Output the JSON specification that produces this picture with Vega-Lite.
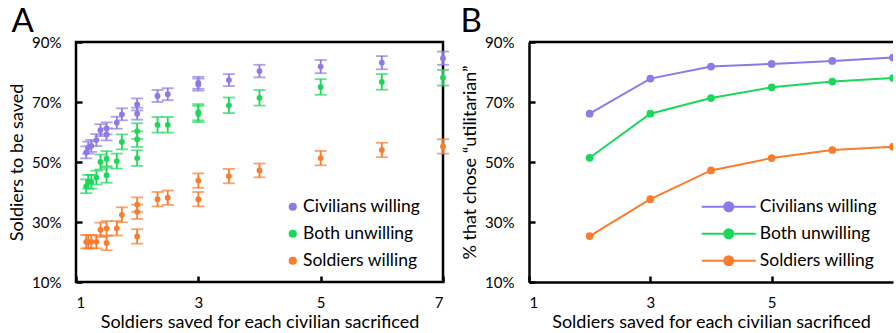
{
  "$schema": "https://vega.github.io/schema/vega-lite/v6.json",
  "padding": {"left": 7, "top": 4, "right": 0, "bottom": 0},
  "background": "white",
  "spacing": 9,
  "config": {
    "font": "Lato",
    "view": {"stroke": "black", "strokeWidth": 2.5},
    "axis": {
      "grid": false,
      "labelFont": "Lato",
      "labelFontSize": 15,
      "labelColor": "black",
      "titleFont": "Lato",
      "titleFontSize": 18,
      "titleFontWeight": "normal",
      "titleColor": "black",
      "tickColor": "black",
      "tickWidth": 2.5,
      "tickSize": -6,
      "domainColor": "black",
      "domainWidth": 2.5
    },
    "legend": {"labelFont": "Lato", "labelFontSize": 17.5, "labelColor": "black"},
    "title": {"font": "Lato", "fontSize": 33, "fontWeight": "normal", "color": "black", "anchor": "start"}
  },
  "datasets": {
    "A": [
      {"s": "Civilians willing", "x": 1.167, "y": 53.2, "e": 2.0},
      {"s": "Civilians willing", "x": 1.2, "y": 54.8, "e": 2.0},
      {"s": "Civilians willing", "x": 1.25, "y": 55.4, "e": 2.0},
      {"s": "Civilians willing", "x": 1.333, "y": 57.3, "e": 2.0},
      {"s": "Civilians willing", "x": 1.4, "y": 60.6, "e": 2.0},
      {"s": "Civilians willing", "x": 1.5, "y": 61.2, "e": 2.0},
      {"s": "Civilians willing", "x": 1.5, "y": 59.2, "e": 2.0},
      {"s": "Civilians willing", "x": 1.667, "y": 63.1, "e": 2.0},
      {"s": "Civilians willing", "x": 1.75, "y": 65.9, "e": 2.0},
      {"s": "Civilians willing", "x": 2, "y": 69.2, "e": 2.0},
      {"s": "Civilians willing", "x": 2, "y": 66.1, "e": 2.0},
      {"s": "Civilians willing", "x": 2.333, "y": 72.0, "e": 2.0},
      {"s": "Civilians willing", "x": 2.5, "y": 72.6, "e": 2.0},
      {"s": "Civilians willing", "x": 3, "y": 76.4, "e": 2.0},
      {"s": "Civilians willing", "x": 3, "y": 75.8, "e": 2.0},
      {"s": "Civilians willing", "x": 3.5, "y": 77.3, "e": 2.0},
      {"s": "Civilians willing", "x": 4, "y": 80.3, "e": 2.1},
      {"s": "Civilians willing", "x": 5, "y": 81.8, "e": 2.2},
      {"s": "Civilians willing", "x": 6, "y": 83.1, "e": 2.2},
      {"s": "Civilians willing", "x": 7, "y": 84.6, "e": 2.2},
      {"s": "Both unwilling", "x": 1.167, "y": 41.9, "e": 2.3},
      {"s": "Both unwilling", "x": 1.2, "y": 43.4, "e": 2.3},
      {"s": "Both unwilling", "x": 1.25, "y": 43.4, "e": 2.3},
      {"s": "Both unwilling", "x": 1.333, "y": 44.8, "e": 2.3},
      {"s": "Both unwilling", "x": 1.4, "y": 50.0, "e": 2.5},
      {"s": "Both unwilling", "x": 1.5, "y": 51.1, "e": 2.5},
      {"s": "Both unwilling", "x": 1.5, "y": 45.6, "e": 2.5},
      {"s": "Both unwilling", "x": 1.667, "y": 50.3, "e": 2.5},
      {"s": "Both unwilling", "x": 1.75, "y": 56.7, "e": 2.5},
      {"s": "Both unwilling", "x": 2, "y": 60.3, "e": 2.6},
      {"s": "Both unwilling", "x": 2, "y": 57.6, "e": 2.6},
      {"s": "Both unwilling", "x": 2, "y": 51.3, "e": 2.6},
      {"s": "Both unwilling", "x": 2.333, "y": 62.4, "e": 2.6},
      {"s": "Both unwilling", "x": 2.5, "y": 62.4, "e": 2.6},
      {"s": "Both unwilling", "x": 3, "y": 66.6, "e": 2.7},
      {"s": "Both unwilling", "x": 3, "y": 66.0, "e": 2.7},
      {"s": "Both unwilling", "x": 3.5, "y": 68.9, "e": 2.6},
      {"s": "Both unwilling", "x": 4, "y": 71.4, "e": 2.6},
      {"s": "Both unwilling", "x": 5, "y": 75.0, "e": 2.6},
      {"s": "Both unwilling", "x": 6, "y": 76.7, "e": 2.6},
      {"s": "Both unwilling", "x": 7, "y": 78.1, "e": 2.6},
      {"s": "Soldiers willing", "x": 1.167, "y": 23.4, "e": 2.2},
      {"s": "Soldiers willing", "x": 1.2, "y": 23.4, "e": 2.2},
      {"s": "Soldiers willing", "x": 1.25, "y": 23.4, "e": 2.2},
      {"s": "Soldiers willing", "x": 1.333, "y": 23.4, "e": 2.2},
      {"s": "Soldiers willing", "x": 1.4, "y": 27.4, "e": 2.4},
      {"s": "Soldiers willing", "x": 1.5, "y": 27.9, "e": 2.4},
      {"s": "Soldiers willing", "x": 1.5, "y": 23.0, "e": 2.4},
      {"s": "Soldiers willing", "x": 1.667, "y": 27.9, "e": 2.4},
      {"s": "Soldiers willing", "x": 1.75, "y": 32.4, "e": 2.5},
      {"s": "Soldiers willing", "x": 2, "y": 35.8, "e": 2.4},
      {"s": "Soldiers willing", "x": 2, "y": 33.4, "e": 2.4},
      {"s": "Soldiers willing", "x": 2, "y": 25.2, "e": 2.4},
      {"s": "Soldiers willing", "x": 2.333, "y": 37.6, "e": 2.4},
      {"s": "Soldiers willing", "x": 2.5, "y": 38.1, "e": 2.4},
      {"s": "Soldiers willing", "x": 3, "y": 43.8, "e": 2.4},
      {"s": "Soldiers willing", "x": 3, "y": 37.6, "e": 2.4},
      {"s": "Soldiers willing", "x": 3.5, "y": 45.3, "e": 2.4},
      {"s": "Soldiers willing", "x": 4, "y": 47.2, "e": 2.3},
      {"s": "Soldiers willing", "x": 5, "y": 51.3, "e": 2.4},
      {"s": "Soldiers willing", "x": 6, "y": 54.0, "e": 2.4},
      {"s": "Soldiers willing", "x": 7, "y": 55.2, "e": 2.4}
    ],
    "B": [
      {"s": "Civilians willing", "x": 2, "y": 66.1},
      {"s": "Civilians willing", "x": 3, "y": 77.8},
      {"s": "Civilians willing", "x": 4, "y": 81.8},
      {"s": "Civilians willing", "x": 5, "y": 82.7},
      {"s": "Civilians willing", "x": 6, "y": 83.7},
      {"s": "Civilians willing", "x": 7, "y": 84.8},
      {"s": "Both unwilling", "x": 2, "y": 51.4},
      {"s": "Both unwilling", "x": 3, "y": 66.1},
      {"s": "Both unwilling", "x": 4, "y": 71.3},
      {"s": "Both unwilling", "x": 5, "y": 74.9},
      {"s": "Both unwilling", "x": 6, "y": 76.8},
      {"s": "Both unwilling", "x": 7, "y": 78.0},
      {"s": "Soldiers willing", "x": 2, "y": 25.3},
      {"s": "Soldiers willing", "x": 3, "y": 37.6},
      {"s": "Soldiers willing", "x": 4, "y": 47.2},
      {"s": "Soldiers willing", "x": 5, "y": 51.3},
      {"s": "Soldiers willing", "x": 6, "y": 54.0},
      {"s": "Soldiers willing", "x": 7, "y": 55.1}
    ]
  },
  "resolve": {"scale": {"color": "independent"}, "legend": {"color": "independent"}},
  "hconcat": [
    {
      "title": {"text": "A", "offset": -4, "dx": 3},
      "width": 367,
      "height": 240,
      "data": {"name": "A"},
      "encoding": {
        "x": {"field": "x", "type": "quantitative",
          "scale": {"domain": [1, 7], "nice": false, "zero": false},
          "axis": {"values": [1, 3, 5, 7], "format": "d", "domain": false, "labelPadding": 19, "titlePadding": 3,
            "title": "Soldiers saved for each civilian sacrificed"}},
        "y": {"field": "y", "type": "quantitative",
          "scale": {"domain": [10, 90], "nice": false, "zero": false},
          "axis": {"values": [10, 30, 50, 70, 90], "domain": false, "labelPadding": 21, "titlePadding": 5,
            "labelExpr": "datum.value + '%'", "title": "Soldiers to be saved"}},
        "color": {"field": "s", "type": "nominal",
          "scale": {"domain": ["Civilians willing", "Both unwilling", "Soldiers willing"], "range": ["#8B7BE6", "#1DD75A", "#FB7C2C"]},
          "legend": {"title": null, "orient": "none", "legendX": 208, "legendY": 156, "padding": 0,
            "symbolType": "circle", "symbolSize": 45, "labelOffset": 1.5, "rowPadding": 8,
            "encode": {"symbols": {"update": {
              "fill": {"signal": "datum.value === 'Civilians willing' ? '#8B7BE6' : datum.value === 'Both unwilling' ? '#1DD75A' : '#FB7C2C'"},
              "stroke": {"value": "transparent"}}}}}}
      },
      "layer": [
        {
          "mark": {"type": "errorbar", "ticks": {"size": 12}, "thickness": 1.8},
          "encoding": {"yError": {"field": "e"}}
        },
        {
          "mark": {"type": "point", "filled": true, "size": 34, "opacity": 1}
        }
      ]
    },
    {
      "title": {"text": "B", "offset": -4, "dx": -1},
      "width": 364,
      "height": 240,
      "view": {"stroke": null},
      "layer": [
        {
          "data": {"values": [{}]},
          "mark": {"type": "rule", "color": "black", "strokeWidth": 2.5},
          "encoding": {"y": {"datum": 90, "type": "quantitative"}}
        },
        {
          "data": {"name": "B"},
          "encoding": {
            "x": {"field": "x", "type": "quantitative",
              "scale": {"domain": [1, 7], "nice": false, "zero": false},
              "axis": {"values": [1, 3, 5], "format": "d", "labelPadding": 19, "titlePadding": 3,
                "title": "Soldiers saved for each civilian sacrificed"}},
            "y": {"field": "y", "type": "quantitative",
              "scale": {"domain": [10, 90], "nice": false, "zero": false},
              "axis": {"values": [10, 30, 50, 70, 90], "labelPadding": 21, "titlePadding": 5,
                "labelExpr": "datum.value + '%'", "title": "% that chose “utilitarian”"}},
            "color": {"field": "s", "type": "nominal",
              "scale": {"domain": ["Civilians willing", "Both unwilling", "Soldiers willing"], "range": ["#8B7BE6", "#1DD75A", "#FB7C2C"]},
              "legend": {"title": null, "orient": "none", "legendX": 191, "legendY": 156, "padding": 0,
                "symbolType": "M-6,0H6M-1,0A1,1,0,1,0,1,0A1,1,0,1,0,-1,0Z", "symbolSize": 81,
                "symbolStrokeWidth": 2, "labelOffset": 22.3, "rowPadding": 8,
                "encode": {"symbols": {"update": {
                  "stroke": {"signal": "datum.value === 'Civilians willing' ? '#8B7BE6' : datum.value === 'Both unwilling' ? '#1DD75A' : '#FB7C2C'"},
                  "fill": {"signal": "datum.value === 'Civilians willing' ? '#8B7BE6' : datum.value === 'Both unwilling' ? '#1DD75A' : '#FB7C2C'"}}}}}}
          },
          "layer": [
            {"mark": {"type": "line", "strokeWidth": 2, "clip": true}},
            {"mark": {"type": "point", "filled": true, "size": 60, "opacity": 1, "clip": true}}
          ]
        }
      ]
    }
  ]
}
